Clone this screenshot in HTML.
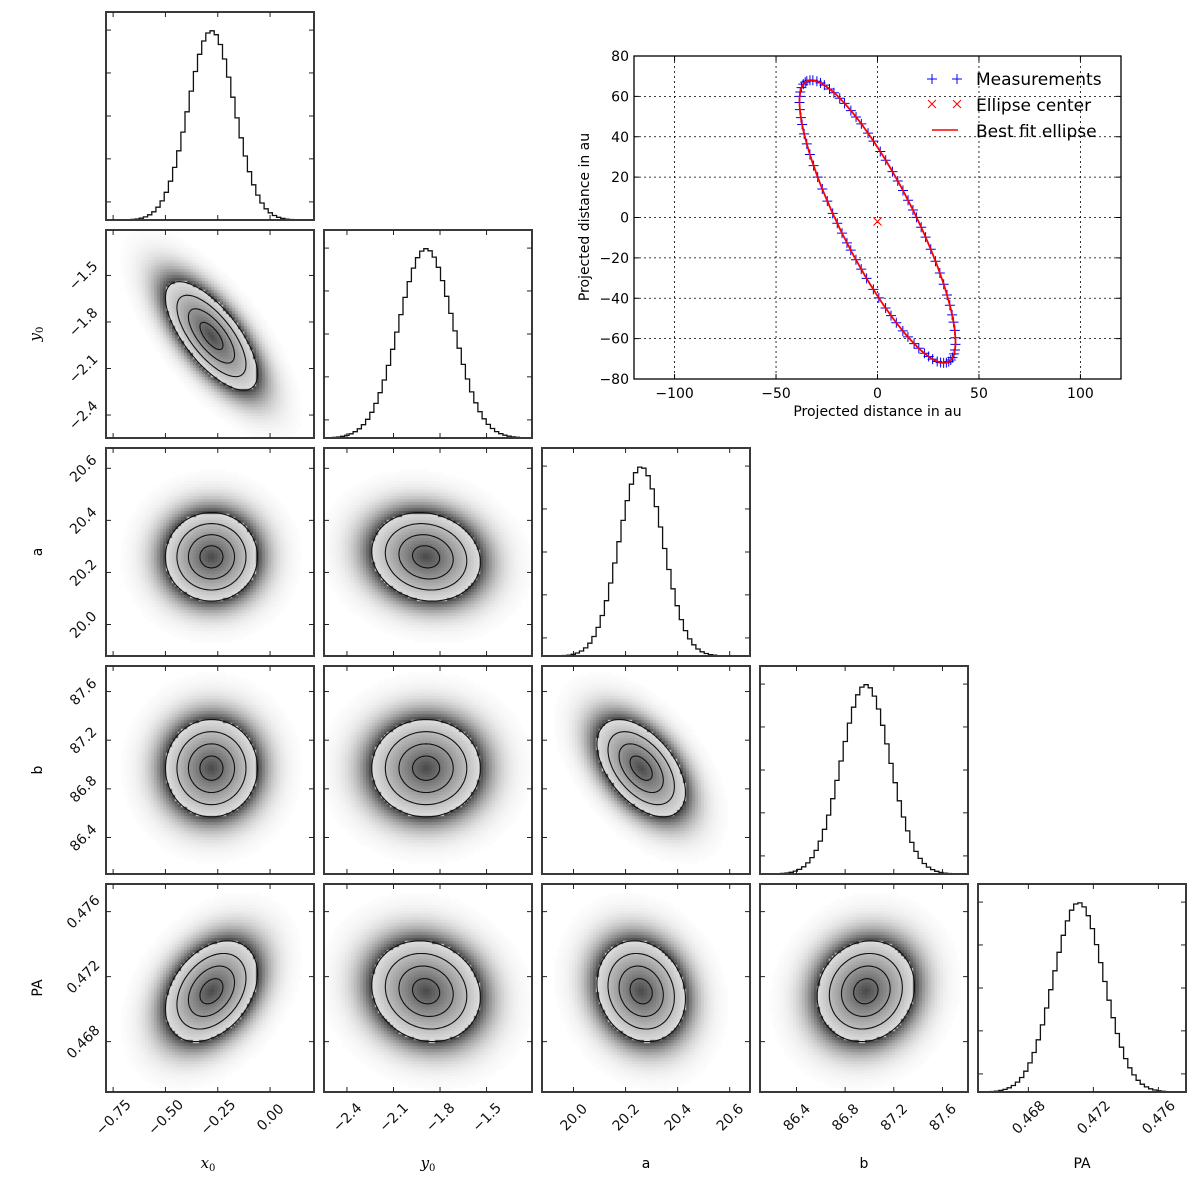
<!DOCTYPE html>
<html><head><meta charset="utf-8"><title>Corner plot</title>
<style>
html,body{margin:0;padding:0;background:#fff;}
#wrap{position:relative;width:1200px;height:1200px;overflow:hidden;}
canvas{position:absolute;}
svg{position:absolute;left:0;top:0;}
text{font-family:"DejaVu Sans","Liberation Sans",sans-serif;}
</style></head>
<body>
<div id="wrap">
<svg id="svg" width="1200" height="1200"></svg>
</div>
<script>
// ---- corner data ----
const paramNames = ["x0","y0","a","b","PA"];
const paramMeans = [-0.28, -1.89, 20.26, 86.97, 0.4711];
const paramSigmas = [0.11, 0.175, 0.085, 0.2, 0.00155];
const rangeMin = [-0.784, -2.548, 19.879, 86.10, 0.4649];
const rangeMax = [0.21, -1.207, 20.678, 87.81, 0.4777];
const corrMatrix = [
  [1, -0.7, 0.0, 0.0, 0.35],
  [-0.7, 1, -0.12, 0.0, -0.12],
  [0.0, -0.12, 1, -0.5, -0.15],
  [0.0, 0.0, -0.5, 1, 0.1],
  [0.35, -0.12, -0.15, 0.1, 1]
];
const tickValues = [
  [-0.75,-0.5,-0.25,0],
  [-2.4,-2.1,-1.8,-1.5],
  [20.0,20.2,20.4,20.6],
  [86.4,86.8,87.2,87.6],
  [0.468,0.472,0.476]
];
const tickLabels = [
  ["\u22120.75","\u22120.50","\u22120.25","0.00"],
  ["\u22122.4","\u22122.1","\u22121.8","\u22121.5"],
  ["20.0","20.2","20.4","20.6"],
  ["86.4","86.8","87.2","87.6"],
  ["0.468","0.472","0.476"]
];
const contourLevels = [0.5, 1, 1.5, 2];
const histBins = 50;

// ---- inset data ----
const insetXTicks = [-100,-50,0,50,100];
const insetXTickLabels = ["\u2212100","\u221250","0","50","100"];
const insetYTicks = [-80,-60,-40,-20,0,20,40,60,80];
const insetYTickLabels = ["\u221280","\u221260","\u221240","\u221220","0","20","40","60","80"];
const ellipseCenter = [0, -2];
const ellipseSemiMajor = 77.8;
const ellipseSemiMinor = 18.2;
const ellipseTiltDeg = 26.6;
const measurementPhasesDeg = [0,5,9,14,18,22,27,31,36,40,45,49,53,58,62,67,71,76,80,84,88,92,95,99,103,108,113,118,123,128,133,138,142,147,152,157,162,166,171,175,179,183,187,191,195,200,204,208,213,217,222,226,231,235,239,244,248,253,257,261,265,268,272,276,280,285,290,295,300,305,310,315,320,324,329,334,339,343,348,353,357];

const NS = "http://www.w3.org/2000/svg";
const svg = document.getElementById("svg");
const wrap = document.getElementById("wrap");
function mk(tag, attrs, parent){
  const e = document.createElementNS(NS, tag);
  for (const k in attrs) e.setAttribute(k, attrs[k]);
  (parent||svg).appendChild(e);
  return e;
}
const colL = [106,324,542,760,978];
const rowT = [12,230,448,666,884];
const S = 208;
function xs(p, v, col){ return colL[col] + (v - rangeMin[p])/(rangeMax[p]-rangeMin[p])*S; }
function ys(p, v, row){ return rowT[row] + S - (v - rangeMin[p])/(rangeMax[p]-rangeMin[p])*S; }

// density panels
for (let i=1;i<5;i++){
  for (let j=0;j<i;j++){
    const cv = document.createElement("canvas");
    cv.width=S; cv.height=S;
    cv.style.left = colL[j]+"px"; cv.style.top = rowT[i]+"px";
    
    
    wrap.insertBefore(cv, svg);
    const ctx = cv.getContext("2d");
    const rho = corrMatrix[i][j];
    const step = 3;
    for (let py=0; py<S; py+=step){
      for (let px=0; px<S; px+=step){
        const xv = rangeMin[j] + (px+step/2)/S*(rangeMax[j]-rangeMin[j]);
        const yv = rangeMin[i] + (S-py-step/2)/S*(rangeMax[i]-rangeMin[i]);
        const zx = (xv-paramMeans[j])/paramSigmas[j];
        const zy = (yv-paramMeans[i])/paramSigmas[i];
        const r2 = (zx*zx - 2*rho*zx*zy + zy*zy)/(1-rho*rho);
        let g;
        if (r2 > 4){
          const t = Math.exp(-(r2-4)/1.6);
          g = 255 - 190*Math.pow(t,0.6);
        } else {
          const r = Math.sqrt(r2);
          g = 222 - 150*Math.pow(1 - r/2, 1.1);
        }
        g = Math.round(g);
        if (g < 253){
          ctx.fillStyle = "rgb("+g+","+g+","+g+")";
          ctx.fillRect(px,py,step,step);
        }
      }
    }
    // contours
    for (const lv of contourLevels){
      let d = "";
      for (let k=0;k<=120;k++){
        const t = k/120*2*Math.PI;
        const zx = lv*Math.cos(t);
        const zy = lv*(rho*Math.cos(t) + Math.sqrt(1-rho*rho)*Math.sin(t));
        const X = xs(j, paramMeans[j]+zx*paramSigmas[j], j);
        const Y = ys(i, paramMeans[i]+zy*paramSigmas[i], i);
        d += (k?"L":"M")+X.toFixed(1)+","+Y.toFixed(1);
      }
      const c = mk("path",{d:d,fill:"none",stroke:"#111","stroke-width":1.1});
      
      
    }
  }
}

// diagonal histograms
for (let i=0;i<5;i++){
  let d = "M"+colL[i]+","+(rowT[i]+S);
  const w = (rangeMax[i]-rangeMin[i])/histBins;
  for (let k=0;k<histBins;k++){
    const c = rangeMin[i] + (k+0.5)*w;
    const z = (c-paramMeans[i])/paramSigmas[i];
    const h = Math.exp(-0.5*z*z)*0.91*S;
    const x1 = xs(i, rangeMin[i]+k*w, i), x2 = xs(i, rangeMin[i]+(k+1)*w, i);
    const y = rowT[i]+S-h;
    d += "L"+x1.toFixed(1)+","+y.toFixed(1)+"L"+x2.toFixed(1)+","+y.toFixed(1);
  }
  d += "L"+(colL[i]+S)+","+(rowT[i]+S);
  const p = mk("path",{d:d,fill:"none",stroke:"#111","stroke-width":1.3});
  
  
}

// frames and ticks
for (let i=0;i<5;i++){
  for (let j=0;j<=i;j++){
    const L=colL[j], T=rowT[i];
    const f = mk("rect",{x:L,y:T,width:S,height:S,fill:"none",stroke:"#3a3a3a","stroke-width":2});
    
    
    for (const tv of tickValues[j]){
      const X = xs(j,tv,j);
      mk("line",{x1:X,x2:X,y1:T+S,y2:T+S-5,stroke:"#222","stroke-width":1});
      mk("line",{x1:X,x2:X,y1:T,y2:T+5,stroke:"#222","stroke-width":1});
    }
    if (i!==j){
      for (const tv of tickValues[i]){
        const Y = ys(i,tv,i);
        mk("line",{x1:L,x2:L+5,y1:Y,y2:Y,stroke:"#222","stroke-width":1});
        mk("line",{x1:L+S,x2:L+S-5,y1:Y,y2:Y,stroke:"#222","stroke-width":1});
      }
    } else {
      for (const fr of [0.087,0.294,0.5,0.707,0.913]){
        const Y = T+S-fr*S;
        mk("line",{x1:L,x2:L+5,y1:Y,y2:Y,stroke:"#222","stroke-width":1});
        mk("line",{x1:L+S,x2:L+S-5,y1:Y,y2:Y,stroke:"#222","stroke-width":1});
      }
    }
  }
}
// bottom tick labels
for (let j=0;j<5;j++){
  tickValues[j].forEach((tv,k)=>{
    const X = xs(j,tv,j);
    const t = mk("text",{x:X,y:1122,"font-size":14,"text-anchor":"middle",fill:"#111",transform:"rotate(-45 "+X+" 1117)"});
    t.textContent = tickLabels[j][k];
    
    
  });
}
// left tick labels
for (let i=1;i<5;i++){
  tickValues[i].forEach((tv,k)=>{
    const Y = ys(i,tv,i);
    const t = mk("text",{x:83,y:Y+5,"font-size":14,"text-anchor":"middle",fill:"#111",transform:"rotate(-45 83 "+Y+")"});
    t.textContent = tickLabels[i][k];
    
    
  });
}
</script>
<script>
// axis labels
(function(){
  const NS="http://www.w3.org/2000/svg", svg=document.getElementById("svg");
  function lab(x,y,html,rot,name,serif){
    const t=document.createElementNS(NS,"text");
    t.setAttribute("x",x);t.setAttribute("y",y);t.setAttribute("text-anchor","middle");
    t.setAttribute("font-size",serif?15:14);
    if(serif){t.setAttribute("style",'font-family:"DejaVu Serif","Liberation Serif",serif;font-style:italic');}
    if(rot)t.setAttribute("transform","rotate(-90 "+x+" "+y+")");
    t.innerHTML=html;
    
    
    svg.appendChild(t);
  }
  lab(208,1168,'x<tspan font-size="10" dy="3" font-style="normal">0</tspan>',false,'x-axis-label-x0',true);
  lab(428,1168,'y<tspan font-size="10" dy="3" font-style="normal">0</tspan>',false,'x-axis-label-y0',true);
  lab(646,1168,'a',false,'x-axis-label-a');
  lab(864,1168,'b',false,'x-axis-label-b');
  lab(1082,1168,'PA',false,'x-axis-label-pa');
  lab(40,334,'y<tspan font-size="10" dy="3" font-style="normal">0</tspan>',true,'y-axis-label-y0',true);
  lab(42,552,'a',true,'y-axis-label-a');
  lab(42,770,'b',true,'y-axis-label-b');
  lab(42,988,'PA',true,'y-axis-label-pa');
})();
</script>
<script>
// ---- inset ellipse plot ----
(function(){
  const NS="http://www.w3.org/2000/svg", svg=document.getElementById("svg");
  const g=document.createElementNS(NS,"g");
  
  
  svg.appendChild(g);
  function mk(tag,a,p){const e=document.createElementNS(NS,tag);for(const k in a)e.setAttribute(k,a[k]);(p||g).appendChild(e);return e;}
  const L=634,R=1121,T=56,B=379;
  const X=v=>L+(v+120)/240*(R-L);
  const Y=v=>B-(v+80)/160*(B-T);
  insetXTicks.forEach((v,k)=>{
    const l=mk("line",{x1:X(v),x2:X(v),y1:T,y2:B,stroke:"#000","stroke-width":0.8,"stroke-dasharray":"2,3"});
    
    mk("line",{x1:X(v),x2:X(v),y1:B,y2:B-5,stroke:"#000"});
    mk("line",{x1:X(v),x2:X(v),y1:T,y2:T+5,stroke:"#000"});
    const t=mk("text",{x:X(v),y:B+19,"font-size":14,"text-anchor":"middle",fill:"#000"});
    t.textContent=insetXTickLabels[k];
    
  });
  insetYTicks.forEach((v,k)=>{
    const l=mk("line",{x1:L,x2:R,y1:Y(v),y2:Y(v),stroke:"#000","stroke-width":0.8,"stroke-dasharray":"2,3"});
    
    mk("line",{x1:L,x2:L+5,y1:Y(v),y2:Y(v),stroke:"#000"});
    mk("line",{x1:R,x2:R-5,y1:Y(v),y2:Y(v),stroke:"#000"});
    const t=mk("text",{x:L-5,y:Y(v)+5,"font-size":14,"text-anchor":"end",fill:"#000"});
    t.textContent=insetYTickLabels[k];
    
  });
  const fr=mk("rect",{x:L,y:T,width:R-L,height:B-T,fill:"none",stroke:"#000","stroke-width":1.3});
  
  const th=ellipseTiltDeg*Math.PI/180;
  const u=[-Math.sin(th),Math.cos(th)], w=[Math.cos(th),Math.sin(th)];
  function pt(phiDeg){const p=phiDeg*Math.PI/180;
    return [ellipseCenter[0]+ellipseSemiMajor*Math.cos(p)*u[0]+ellipseSemiMinor*Math.sin(p)*w[0],
            ellipseCenter[1]+ellipseSemiMajor*Math.cos(p)*u[1]+ellipseSemiMinor*Math.sin(p)*w[1]];}
  measurementPhasesDeg.forEach(ph=>{
    const q=pt(ph),px=X(q[0]),py=Y(q[1]);
    const m=mk("path",{d:"M"+(px-5)+","+py+"H"+(px+5)+"M"+px+","+(py-5)+"V"+(py+5),stroke:"#0000ff","stroke-width":1,fill:"none"});
    
  });
  let d="";
  for(let k=0;k<=360;k+=2){const q=pt(k);d+=(k?"L":"M")+X(q[0]).toFixed(1)+","+Y(q[1]).toFixed(1);}
  const el=mk("path",{d:d,fill:"none",stroke:"#ff0000","stroke-width":1.8});
  
  const cx=X(ellipseCenter[0]),cy=Y(ellipseCenter[1]);
  const cm=mk("path",{d:"M"+(cx-4)+","+(cy-4)+"L"+(cx+4)+","+(cy+4)+"M"+(cx+4)+","+(cy-4)+"L"+(cx-4)+","+(cy+4),stroke:"#ff0000","stroke-width":1,fill:"none"});
  
  const xl=mk("text",{x:(L+R)/2,y:416,"font-size":14,"text-anchor":"middle",fill:"#000"});
  xl.textContent="Projected distance in au";
  
  const yl=mk("text",{x:589,y:217,"font-size":14,"text-anchor":"middle",fill:"#000",transform:"rotate(-90 589 217)"});
  yl.textContent="Projected distance in au";
  
  const lg=document.createElementNS(NS,"g");
  
  g.appendChild(lg);
  [932,957].forEach(x=>{mk("path",{d:"M"+(x-5)+",79H"+(x+5)+"M"+x+",74V84",stroke:"#0000ff","stroke-width":1},lg);});
  [932,957].forEach(x=>{mk("path",{d:"M"+(x-4)+",100L"+(x+4)+",108M"+(x+4)+",100L"+(x-4)+",108",stroke:"#ff0000","stroke-width":1},lg);});
  mk("line",{x1:932,x2:958,y1:130,y2:130,stroke:"#ff0000","stroke-width":1.5},lg);
  const names=["Measurements","Ellipse center","Best fit ellipse"];
  names.forEach((n,k)=>{
    const t=mk("text",{x:976,y:85+k*26,"font-size":17,fill:"#000"},lg);
    t.textContent=n;
    
  });
})();
</script>
</body></html>
